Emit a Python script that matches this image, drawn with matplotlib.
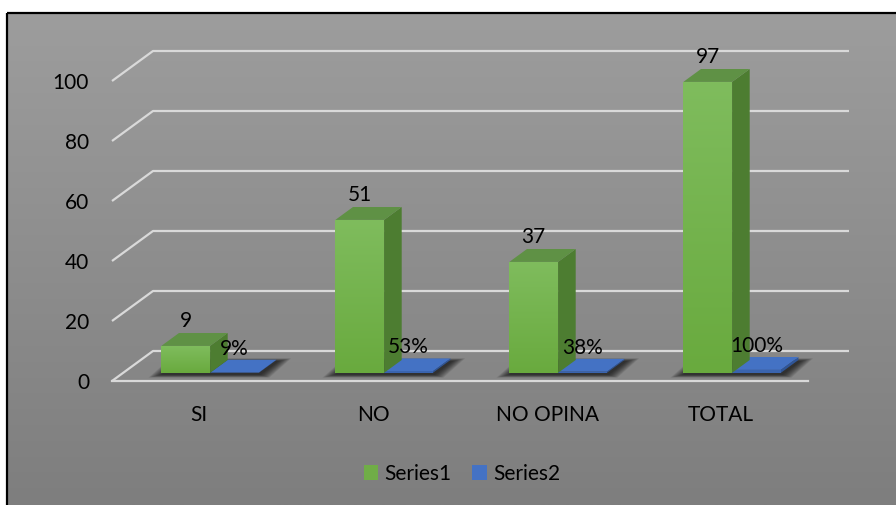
import matplotlib
matplotlib.use('Agg')
import matplotlib.pyplot as plt
import numpy as np
from matplotlib.patches import Polygon, Patch
from matplotlib.transforms import IdentityTransform
from matplotlib.colors import LinearSegmentedColormap

# ---- data ----
categories = ['SI', 'NO', 'NO OPINA', 'TOTAL']
series1 = [9, 51, 37, 97]
series2 = [0.09, 0.53, 0.38, 1.00]
series_names = ['Series1', 'Series2']
yticks = [0, 20, 40, 60, 80, 100]

# ---- style ----
plt.rcParams['font.family'] = ['Lato', 'DejaVu Sans']
FS = 15
GREEN_FRONT_TOP = '#7fbc5d'
GREEN_FRONT_BOT = '#69aa3e'
GREEN_SIDE = '#4d7d31'
GREEN_TOP = '#5f9145'
BLUE_FRONT = '#3a64ae'
BLUE_SIDE = '#2f5597'
BLUE_TOP = '#4472c4'
GRID = '#d9d9d9'

W, H = 896, 505
fig = plt.figure(figsize=(W / 100, H / 100), dpi=100)

# background panel with gradient
bg = fig.add_axes([0, 0, 1, 1], zorder=0)
bg.set_xlim(0, W)
bg.set_ylim(H, 0)
bg.axis('off')
grad = np.linspace(0, 1, 256).reshape(-1, 1)
bgcm = LinearSegmentedColormap.from_list('bg', ['#9d9d9d', '#7e7e7e'])
bg.imshow(grad, cmap=bgcm, extent=(7, W, H, 13), aspect='auto', origin='upper')
bg.plot([7, 7], [13, H], color='black', lw=1.6, solid_capstyle='butt')
bg.plot([7, W], [13, 13], color='black', lw=1.6, solid_capstyle='butt')
bg.set_xlim(0, W)
bg.set_ylim(H, 0)

# main axes (front plane of the floor)
ax = fig.add_axes([0, 0, 1, 1], zorder=1)
ax.patch.set_alpha(0)
ax.axis('off')
PX_X, PX_Y = 174.0, 3.0
X0, Y0 = 112, 124
ax.set_xlim(-0.5 - X0 / PX_X, -0.5 + (W - X0) / PX_X)
ax.set_ylim(-Y0 / PX_Y, (H - Y0) / PX_Y)
ax.set_autoscale_on(False)

DEPTH = np.array([41.0, 30.0])   # pixel offset of full depth
D0, D1 = 0.27, 0.70               # bar depth range
BW = 0.28                         # bar width (category units)
ID = IdentityTransform()


def P(x, y, d):
    return ax.transData.transform((x, y)) + d * DEPTH


def poly(pts, **kw):
    ax.add_patch(Polygon(np.array(pts), closed=True, transform=ID,
                         clip_on=False, **kw))


# gridlines with 3D wall corner
for t in yticks:
    pts = np.array([P(-0.5, t, 0), P(-0.5, t, 1), P(3.5, t, 1)])
    ax.plot(pts[:, 0], pts[:, 1], color=GRID, lw=1.6, transform=ID,
            clip_on=False, zorder=1, solid_capstyle='butt')
pts = np.array([P(-0.5, 0, 0), P(3.5, 0, 0)])
ax.plot(pts[:, 0], pts[:, 1], color=GRID, lw=1.6, transform=ID,
        clip_on=False, zorder=1)

# shadows under each bar group
for i in range(len(categories)):
    base = np.array([P(i - BW, 0, D0), P(i + BW, 0, D0),
                     P(i + BW, 0, D1), P(i - BW, 0, D1)])
    c = base.mean(axis=0)
    for k in range(10, 0, -1):
        s = 1 + k * 0.05
        pts = (base - c) * np.array([1 + k * 0.024, s]) + c + np.array([1, -1.5])
        poly(pts, facecolor='black', edgecolor='none', alpha=0.09, zorder=2)

# bars
def bar3d(x0, x1, v, front, side, top, grad_colors=None):
    f = [P(x0, 0, D0), P(x1, 0, D0), P(x1, v, D0), P(x0, v, D0)]
    s = [P(x1, 0, D0), P(x1, 0, D1), P(x1, v, D1), P(x1, v, D0)]
    tp = [P(x0, v, D0), P(x1, v, D0), P(x1, v, D1), P(x0, v, D1)]
    poly(s, facecolor=side, edgecolor='none', zorder=3)
    poly(tp, facecolor=top, edgecolor='none', zorder=3)
    if grad_colors is not None:
        inv = ax.transData.inverted()
        (dx0, dy0), (dx1, dy1) = inv.transform([f[0], f[2]])
        cm = LinearSegmentedColormap.from_list('f', [grad_colors[1], grad_colors[0]])
        ax.imshow(grad, cmap=cm, extent=(dx0, dx1, dy0, dy1), aspect='auto',
                  origin='lower', zorder=3, interpolation='bilinear')
    else:
        poly(f, facecolor=front, edgecolor='none', zorder=3)


for i, v in enumerate(series2):
    bar3d(i, i + BW, v, BLUE_FRONT, BLUE_SIDE, BLUE_TOP)
for i, v in enumerate(series1):
    bar3d(i - BW, i, v, GREEN_FRONT_BOT, GREEN_SIDE, GREEN_TOP,
          grad_colors=(GREEN_FRONT_TOP, GREEN_FRONT_BOT))

ax.set_xlim(-0.5 - X0 / PX_X, -0.5 + (W - X0) / PX_X)
ax.set_ylim(-Y0 / PX_Y, (H - Y0) / PX_Y)

# data labels
for i, v in enumerate(series1):
    ax.annotate(str(v), xy=(i - BW / 2, v), xytext=(11, 33),
                textcoords='offset pixels', ha='center', va='center',
                fontsize=FS, color='black', zorder=5)
for i, v in enumerate(series2):
    ax.annotate(f'{v:.0%}', xy=(i + BW / 2, v), xytext=(11, 32),
                textcoords='offset pixels', ha='center', va='center',
                fontsize=FS, color='black', zorder=5)

# axis tick labels
for t in yticks:
    ax.annotate(str(t), xy=(-0.5, t), xytext=(-23, -2),
                textcoords='offset pixels', ha='right', va='center',
                fontsize=FS, color='black')
for i, c in enumerate(categories):
    ax.annotate(c, xy=(i, 0), xytext=(0, -34), textcoords='offset pixels',
                ha='center', va='center', fontsize=FS, color='black')

# legend
handles = [Patch(facecolor='#70ad47', edgecolor='none'),
           Patch(facecolor='#4472c4', edgecolor='none')]
ax.legend(handles, series_names, loc='center',
          bbox_to_anchor=(462 / W, 31 / H), bbox_transform=fig.transFigure,
          ncol=2, frameon=False, fontsize=FS, handlelength=0.7,
          handleheight=0.7, handletextpad=0.3, columnspacing=1.0)

fig.savefig('out.png', dpi=100)
